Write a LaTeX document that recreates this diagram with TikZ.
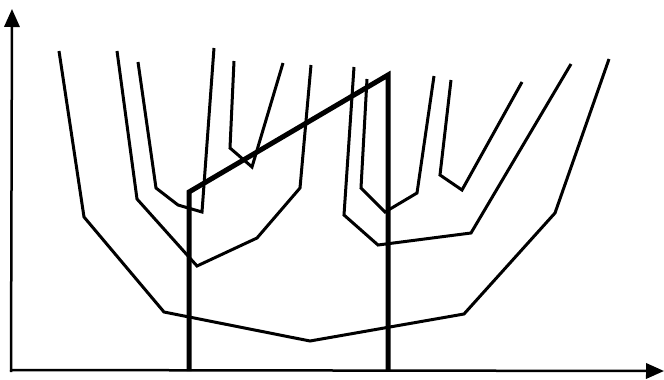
\documentclass[tikz,border=0pt]{standalone}
\usepackage{tikz}
\usetikzlibrary{arrows.meta}

\tikzset{
  axis/.style={line width=0.75mm, -{Triangle[length=5.4mm,width=4.6mm]}},
  curve/.style={line width=0.9mm},
  bound/.style={line width=1.5mm},
}

\begin{document}
\begin{tikzpicture}[x=0.3mm,y=-0.3mm]
    \useasboundingbox (0,0) rectangle (664,379);

    % axes
    \draw[axis] (11,372) -- (12,9);
    \draw[axis] (10,370) -- (664,371);

    % curves
    \draw[curve] (59,51) -- (84,217) -- (164,312) -- (310,341) -- (464,314) -- (555,213) -- (609,59);
    \draw[curve] (117,51) -- (137,199) -- (197,266) -- (257,238) -- (300,188) -- (311,65);
    \draw[curve] (138,62) -- (156,188) -- (178,205) -- (202,212) -- (214,48);
    \draw[curve] (234,61) -- (230,148) -- (252,167) -- (283,63);
    \draw[curve] (354,67) -- (344,215) -- (378,245) -- (471,233) -- (571,64);
    \draw[curve] (367,79) -- (361,188) -- (385,212) -- (417,193) -- (434,76);
    \draw[curve] (451,80) -- (440,175) -- (462,190) -- (522,82);

    % bound
    \draw[bound] (189,371) -- (189,192) -- (388,75) -- (388,371);
  \end{tikzpicture}
\end{document}
